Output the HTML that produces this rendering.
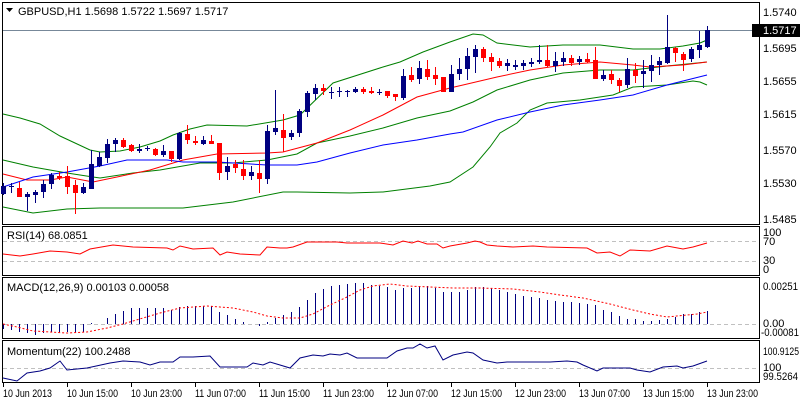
<!DOCTYPE html>
<html><head><meta charset="utf-8">
<style>
html,body{margin:0;padding:0;background:#fff;}
svg{display:block;font-family:"Liberation Sans",sans-serif;font-size:11px;}
</style></head>
<body>
<svg id="c" width="800" height="400" xmlns="http://www.w3.org/2000/svg">
<rect x="0" y="0" width="800" height="400" fill="#fff"/>
<rect x="2.5" y="2.5" width="757" height="222" fill="none" stroke="#000"/>
<rect x="2.5" y="226.5" width="757" height="49" fill="none" stroke="#000"/>
<rect x="2.5" y="277.5" width="757" height="61" fill="none" stroke="#000"/>
<rect x="2.5" y="340.5" width="757" height="42" fill="none" stroke="#000"/>
<line x1="3" y1="30.5" x2="759" y2="30.5" stroke="#778899"/>
<polygon points="6,8 13,8 9.5,12" fill="#000"/>
<text x="18" y="15" fill="#000">GBPUSD,H1  1.5698 1.5722 1.5697 1.5717</text>
<g fill="#000">
<text x="763" y="16">1.5740</text>
<rect x="752" y="24" width="48" height="13" fill="#000"/>
<text x="763" y="34" fill="#fff">1.5717</text>
<text x="763" y="52">1.5695</text>
<text x="763" y="85">1.5655</text>
<text x="763" y="118">1.5615</text>
<text x="763" y="154">1.5570</text>
<text x="763" y="187">1.5530</text>
<text x="763" y="223">1.5485</text>
<text x="763" y="236">100</text>
<text x="763" y="245">70</text>
<text x="763" y="264">30</text>
<text x="763" y="273">0</text>
<text x="763" y="290" textLength="35" lengthAdjust="spacingAndGlyphs">0.00251</text>
<text x="763" y="327">0.00</text>
<text x="761" y="336" textLength="38" lengthAdjust="spacingAndGlyphs">-0.00081</text>
<text x="763" y="355" textLength="36" lengthAdjust="spacingAndGlyphs">100.9125</text>
<text x="763" y="371">100</text>
<text x="763" y="380" textLength="35" lengthAdjust="spacingAndGlyphs">99.5264</text>
</g>
<g stroke="#c0c0c0" stroke-dasharray="4,3">
<line x1="3" y1="241.5" x2="759" y2="241.5"/>
<line x1="3" y1="261.5" x2="759" y2="261.5"/>
<line x1="3" y1="324.5" x2="759" y2="324.5"/>
<line x1="3" y1="368.5" x2="759" y2="368.5"/>
</g>
<text x="7" y="239" fill="#000">RSI(14) 68.0851</text>
<text x="7" y="291" fill="#000">MACD(12,26,9) 0.00103 0.00058</text>
<text x="7" y="355" fill="#000">Momentum(22) 100.2488</text>
<g fill="#000">
<text x="3" y="397" textLength="49" lengthAdjust="spacingAndGlyphs">10 Jun 2013</text>
<text x="67" y="397" textLength="51" lengthAdjust="spacingAndGlyphs">10 Jun 15:00</text>
<text x="131" y="397" textLength="51" lengthAdjust="spacingAndGlyphs">10 Jun 23:00</text>
<text x="195" y="397" textLength="51" lengthAdjust="spacingAndGlyphs">11 Jun 07:00</text>
<text x="259" y="397" textLength="51" lengthAdjust="spacingAndGlyphs">11 Jun 15:00</text>
<text x="323" y="397" textLength="51" lengthAdjust="spacingAndGlyphs">11 Jun 23:00</text>
<text x="387" y="397" textLength="51" lengthAdjust="spacingAndGlyphs">12 Jun 07:00</text>
<text x="451" y="397" textLength="51" lengthAdjust="spacingAndGlyphs">12 Jun 15:00</text>
<text x="515" y="397" textLength="51" lengthAdjust="spacingAndGlyphs">12 Jun 23:00</text>
<text x="579" y="397" textLength="51" lengthAdjust="spacingAndGlyphs">13 Jun 07:00</text>
<text x="643" y="397" textLength="51" lengthAdjust="spacingAndGlyphs">13 Jun 15:00</text>
<text x="707" y="397" textLength="51" lengthAdjust="spacingAndGlyphs">13 Jun 23:00</text>
</g>
<g id="dyn"></g>
</svg>
<script>
var NS="http://www.w3.org/2000/svg",g=document.getElementById("dyn");
function el(t,a){var e=document.createElementNS(NS,t);for(var k in a)e.setAttribute(k,a[k]);g.appendChild(e);return e;}
function pl(pts,c,extra){var a={points:pts,fill:"none",stroke:c,"stroke-width":1};if(extra)for(var k in extra)a[k]=extra[k];el("polyline",a);}
for(var t=0;t<12;t++){var x=3.5+64*t;el("line",{x1:x,y1:383,x2:x,y2:387,stroke:"#000"});}
pl("3,114 20,118 40,124 60,136 75,143 90,150 100,152 120,151 140,147 160,141 173,135 190,129 207,125 247,126 283,120 300,115 333,83 383,67 400,62 423,52 450,42 473,34 483,35 497,43 530,47 563,45 600,45 633,49 660,49 683,46 700,43 707,40","#008000");
pl("3,160 33,167 67,173 93,177 100,178 133,173 160,170 200,163 233,163 267,160 297,154 317,143 350,136 383,128 417,118 450,111 473,102 497,90 530,80 563,73 600,70 633,70 667,66 707,62","#008000");
pl("3,207 33,213 67,209 100,208 167,208 183,208 233,202 283,192 297,192 350,193 383,192 430,186 450,182 473,167 490,147 500,133 517,123 530,110 547,103 580,100 613,95 633,87 667,85 693,81 700,82 707,85","#008000");
pl("3,174 27,180 50,180 67,177 93,182 117,177 150,170 183,160 217,154 267,153 283,152 317,143 350,130 383,115 417,97 450,88 463,85 497,77 530,70 563,65 600,62 633,65 650,67 683,65 707,62","#ff0000");
pl("3,187 33,177 67,172 100,166 127,160 167,160 183,162 217,162 267,165 297,165 317,162 350,153 383,145 417,140 450,134 463,132 497,120 530,112 563,105 600,100 633,95 667,85 707,75","#0000ff");
var C=[[183,195,186,194,0],[183,193,186,187,0],[182,197,188,197,1],[192,211,194,197,0],[190,203,192,195,0],[180,198,184,192,0],[173,189,175,184,0],[172,180,176,178,1],[166,194,176,187,1],[180,214,185,193,1],[183,194,187,193,0],[150,189,164,189,0],[152,167,157,166,0],[139,163,144,158,0],[138,152,140,144,0],[138,148,140,147,1],[144,152,145,151,1],[144,153,149,151,0],[146,151,148,149,0],[148,156,149,155,1],[145,157,151,155,0],[151,162,151,159,1],[132,160,133,159,0],[125,144,134,140,1],[136,145,141,143,1],[136,145,140,144,0],[135,144,141,144,1],[143,180,143,173,1],[157,180,166,172,0],[160,173,164,168,1],[160,180,169,176,1],[166,180,172,176,0],[160,193,173,179,1],[125,184,131,179,0],[90,135,128,132,0],[114,152,130,138,1],[130,140,133,137,0],[109,137,111,133,0],[91,117,93,112,0],[84,100,88,94,0],[84,95,88,91,1],[87,99,92,93,0],[87,97,91,92,0],[90,97,91,92,0],[87,93,89,92,0],[87,94,89,92,1],[87,94,91,93,1],[89,95,92,93,0],[91,98,91,96,1],[94,101,94,97,1],[69,100,76,98,0],[67,82,75,80,1],[61,84,68,79,0],[60,80,69,77,1],[67,85,75,79,1],[77,92,77,92,1],[65,92,74,92,0],[58,80,69,74,0],[48,80,56,69,0],[45,73,49,57,0],[47,62,49,58,1],[53,71,57,62,1],[58,68,61,66,1],[59,71,63,66,0],[60,70,65,67,0],[60,70,63,66,0],[58,67,62,64,0],[45,64,60,62,0],[45,67,60,66,1],[52,72,61,66,0],[52,66,58,62,0],[55,66,58,63,1],[56,65,59,62,0],[53,63,59,62,1],[47,79,60,79,1],[70,81,75,79,0],[70,84,74,80,1],[78,92,80,86,1],[58,88,69,85,0],[63,83,70,76,1],[60,88,71,74,0],[55,82,65,71,0],[57,75,61,65,0],[15,64,47,63,0],[47,62,48,53,1],[52,71,54,60,1],[47,62,49,59,0],[31,58,45,50,0],[26,48,30,47,0]];
for(var i=0;i<C.length;i++){var c=C[i],x=3+8*i,col=c[4]?"#ff0000":"#000080";
el("line",{x1:x+0.5,y1:c[0],x2:x+0.5,y2:c[1],stroke:col});
var h=c[3]-c[2];if(h<2){el("rect",{x:x-2,y:c[2],width:5,height:1,fill:col});}
else el("rect",{x:x-2,y:c[2],width:5,height:h,fill:col});}
pl("3,254 20,256 33,254 50,251 67,252 80,254 90,249 113,245 133,247 167,248 173,250 180,246 193,249 213,248 220,255 227,252 240,254 260,255 267,247 280,248 287,248 293,247 307,242 337,242 347,243 380,243 393,245 403,241 412,243 418,241 427,244 437,244 443,248 450,246 467,243 475,241 480,242 487,245 497,246 513,247 533,246 547,247 587,248 597,253 610,252 620,256 630,250 650,251 667,246 683,249 693,247 707,243","#ff0000");
var M=[329,330,332,333,335,333,332,332,332,332,332,323,324,318,314,311,308,308,308,308,308,310,307,306,306,306,306,312,315,319,322,324,326,322,318,315,312,307,300,293,289,286,285,284,283,283,285,286,287,290,288,288,286,286,288,292,292,292,290,287,287,288,290,292,294,296,297,298,300,301,302,302,303,304,305,310,312,316,319,319,321,321,320,319,317,314,314,312,311,307];
for(var i=0;i<89;i++){var x=3.5+8*i;if(Math.abs(M[i]-324)>0)el("line",{x1:x,y1:324,x2:x,y2:M[i],stroke:"#000080"});}
pl("3,324 17,327 33,331 50,332 67,333 87,332 107,328 123,324 143,318 160,313 180,308 207,306 233,308 253,312 267,316 283,318 300,318 313,314 330,305 347,297 360,290 373,286 390,284 407,286 430,287 453,288 480,288 513,289 540,292 560,295 583,298 610,304 633,310 650,314 667,317 697,314 707,312","#ff0000",{"stroke-dasharray":"2,2"});
pl("3,378 17,381 27,373 40,371 50,368 60,361 67,370 87,368 110,363 123,361 140,362 150,365 160,362 173,362 180,357 193,357 210,356 220,367 247,367 253,363 263,365 270,362 280,365 290,368 300,358 313,355 323,356 330,354 340,355 347,353 357,358 387,358 397,351 407,348 413,348 420,344 427,348 435,346 443,360 453,355 467,352 473,353 483,360 497,363 507,362 533,362 550,362 567,361 577,362 583,365 597,371 603,368 630,368 637,370 650,372 663,367 677,366 683,368 693,366 707,361","#000080");
</script>
</body></html>
